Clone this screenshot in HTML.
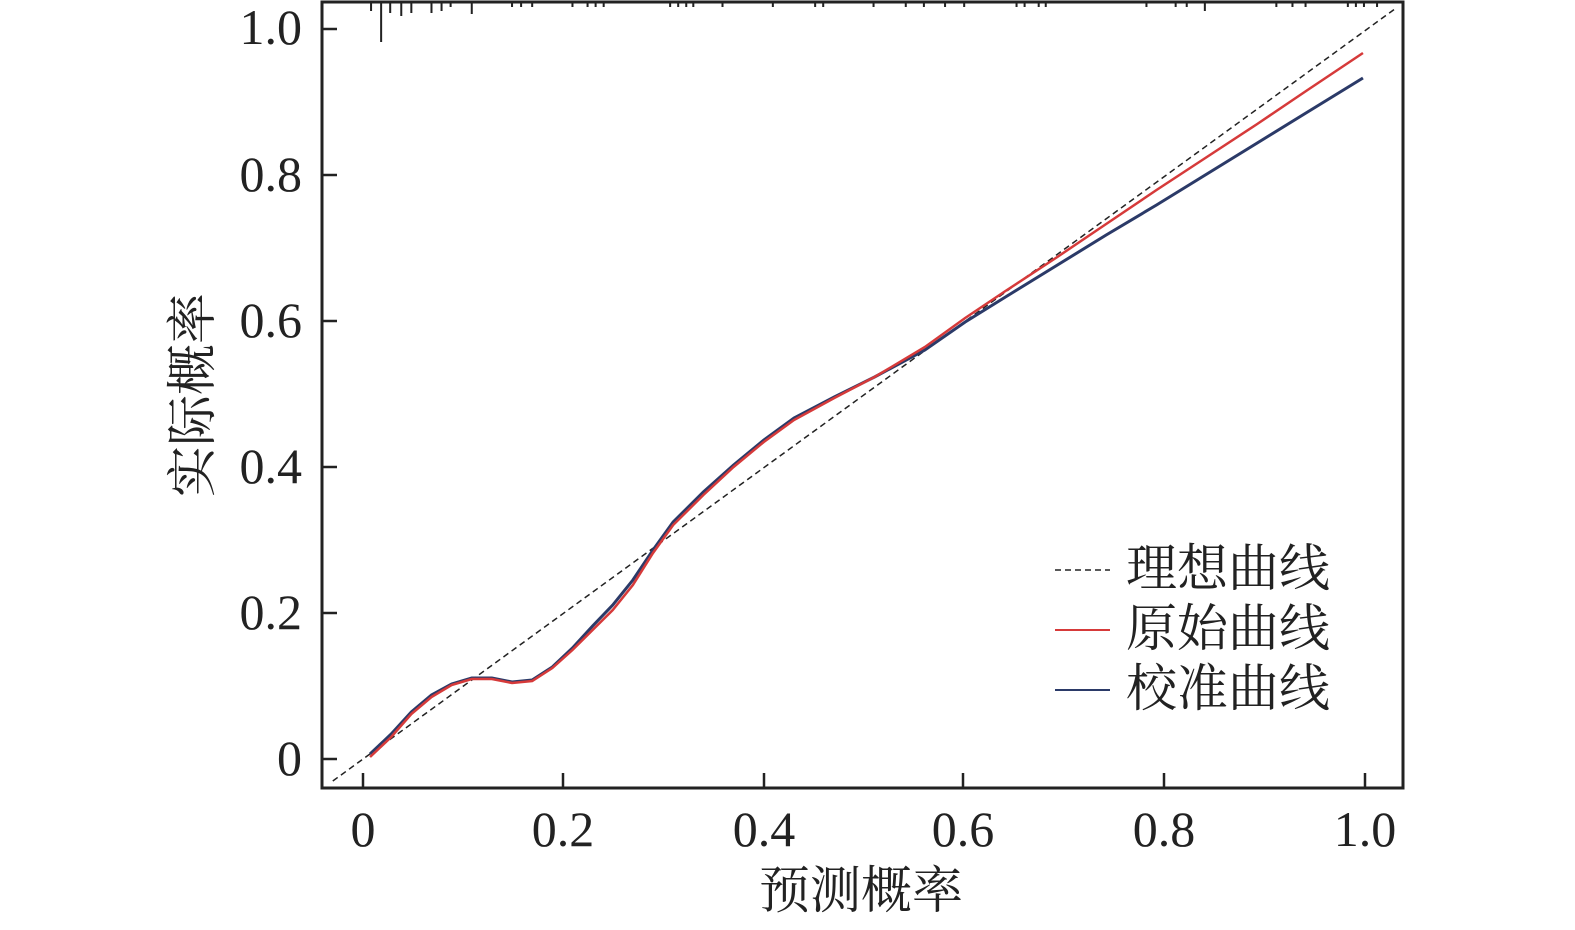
<!DOCTYPE html>
<html><head><meta charset="utf-8"><style>
html,body{margin:0;padding:0;background:#fff;overflow:hidden;width:1575px;height:930px;}
svg{display:block;}
text{font-family:"Liberation Serif","Noto Serif CJK SC",serif;fill:#222;}
</style></head><body>
<svg width="1575" height="930" xmlns="http://www.w3.org/2000/svg">
<rect x="322" y="2" width="1081" height="786" fill="none" stroke="#222" stroke-width="3"/>
<g stroke="#222" stroke-width="2.5">
<line x1="363" y1="788" x2="363" y2="773"/><line x1="563" y1="788" x2="563" y2="773"/><line x1="764" y1="788" x2="764" y2="773"/><line x1="963" y1="788" x2="963" y2="773"/><line x1="1164" y1="788" x2="1164" y2="773"/><line x1="1365" y1="788" x2="1365" y2="773"/>
<line x1="322" y1="759" x2="337" y2="759"/><line x1="322" y1="613" x2="337" y2="613"/><line x1="322" y1="467" x2="337" y2="467"/><line x1="322" y1="321" x2="337" y2="321"/><line x1="322" y1="175" x2="337" y2="175"/><line x1="322" y1="29" x2="337" y2="29"/>
</g>
<g transform="matrix(1.007 0 0 1 -1.53 0)">
<g stroke="#222" stroke-width="2">
<line x1="380" y1="2" x2="380" y2="42"/>
<path d="M370 2v9M389 2v11M400 2v14M410 2v11M430 2v11M440 2v9M449 2v5M470 2v12M510 2v5M519 2v5M530 2v5M570 2v5M585 2v5M593 2v5M601 2v5M667 2v5M675 2v5M683 2v5M690 2v5M719 2v5M769 2v5M811 2v5M819 2v5M869 2v5M901 2v5M919 2v5M940 2v5M959 2v5M1011 2v5M1019 2v5M1033 2v5M1040 2v5M1140 2v5M1169 2v5M1180 2v5M1198 2v9M1269 2v5M1285 2v5M1298 2v5M1340 2v5M1348 2v5M1356 2v5M1369 2v5"/>
</g>
<line x1="332" y1="781" x2="1388" y2="8" stroke="#222" stroke-width="1.5" stroke-dasharray="6,4"/>
<path d="M369 754 L390 734 L410 712 L430 695 L450 684 L470 678 L490 678 L510 682 L530 680 L550 667 L570 648 L590 626 L610 605 L630 580 L650 550 L670 522 L700 492 L730 465 L760 440 L790 418 L830 397 L870 377 L920 350 L960 322 L1000 297 L1050 266 L1100 235 L1150 205 L1200 174 L1250 143 L1300 112 L1355 78" fill="none" stroke="#2b3a68" stroke-width="3"/>
<path d="M369 757 L390 737 L410 714 L430 697 L450 685 L470 679 L490 679 L510 683 L530 681 L550 668 L570 650 L590 630 L610 610 L630 585 L650 553 L670 525 L700 495 L730 467 L760 442 L790 420 L830 398 L870 377 L920 347 L960 318 L1000 291 L1050 258 L1100 224 L1150 190 L1200 157 L1250 124 L1300 90 L1355 53" fill="none" stroke="#d63a3a" stroke-width="2.5"/>
</g>
<g font-size="50" text-anchor="middle">
<text x="363" y="846">0</text><text x="563" y="846">0.2</text><text x="764" y="846">0.4</text><text x="963" y="846">0.6</text><text x="1164" y="846">0.8</text><text x="1365" y="846">1.0</text>
</g>
<g font-size="50" text-anchor="end">
<text x="302" y="775">0</text><text x="302" y="629">0.2</text><text x="302" y="483">0.4</text><text x="302" y="337">0.6</text><text x="302" y="191">0.8</text><text x="302" y="44">1.0</text>
</g>
<text x="861" y="908" font-size="51" text-anchor="middle">预测概率</text>
<text transform="translate(210,395) rotate(-90)" font-size="51" text-anchor="middle">实际概率</text>
<line x1="1055" y1="570" x2="1110" y2="570" stroke="#222" stroke-width="1.5" stroke-dasharray="6,4"/>
<line x1="1055" y1="630" x2="1110" y2="630" stroke="#d63a3a" stroke-width="2"/>
<line x1="1055" y1="690" x2="1110" y2="690" stroke="#2b3a68" stroke-width="2"/>
<g font-size="51"><text x="1126" y="586">理想曲线</text><text x="1126" y="646">原始曲线</text><text x="1126" y="706">校准曲线</text></g>
</svg>
</body></html>
